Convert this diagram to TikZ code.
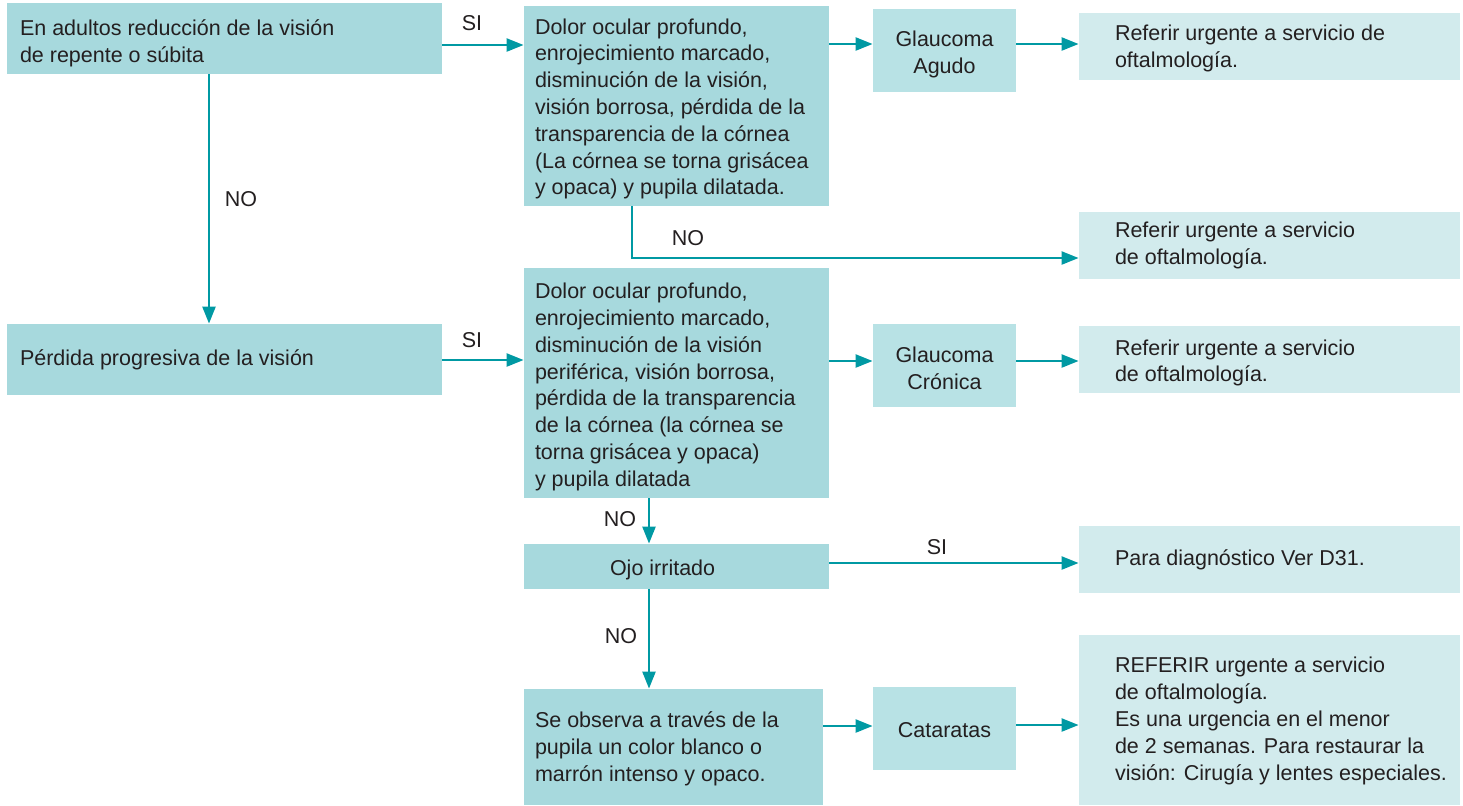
\documentclass[tikz,border=0pt]{standalone}
\usepackage{fontspec}
\setmainfont{Liberation Sans}
\usetikzlibrary{arrows.meta}
\definecolor{dk}{RGB}{167,217,221}
\definecolor{md}{RGB}{184,226,229}
\definecolor{lt}{RGB}{210,235,237}
\definecolor{ar}{RGB}{0,153,163}
\definecolor{tx}{RGB}{35,31,32}
% #1 width, #2 left indent, #3 top pad (text moves down by half of it), #4 text
\newcommand{\tbx}[4]{\parbox[c]{#1}{\raggedright\leftskip=#2\relax\vspace*{#3}#4}}
\newcommand{\cbx}[3]{\parbox[c]{#1}{\centering\vspace*{#2}#3}}
\begin{document}
\begin{tikzpicture}[x=0.5pt,y=-0.5pt,
  every node/.style={font=\fontsize{10.75}{13.4}\selectfont, text=tx},
  box/.style={inner sep=0pt, anchor=center},
  wide/.style={box, minimum width=217.5pt, minimum height=35.5pt, fill=dk},
  mid/.style={box, minimum width=152.5pt, fill=dk},
  glau/.style={box, minimum width=71.5pt, minimum height=41.5pt, fill=md},
  refb/.style={box, minimum width=190.5pt, minimum height=33.5pt, fill=lt},
  arr/.style={draw=ar, line width=1.15pt, -{Triangle[length=8.5pt,width=6.5pt]}},
  lab/.style={inner sep=0pt}]
\useasboundingbox (0,0) rectangle (1463,805);

% boxes
\node[wide] (A) at (224.5,38.5) {\tbx{217.5pt}{6.5pt}{5pt}{En adultos reducción de la visión\\ de repente o súbita}};
\node[mid, minimum height=100pt] (B) at (676.5,106) {\tbx{152.5pt}{5.5pt}{3pt}{Dolor ocular profundo,\\ enrojecimiento marcado,\\ disminución de la visión,\\ visión borrosa, pérdida de la\\ transparencia de la córnea\\ (La córnea se torna grisácea\\ y opaca) y pupila dilatada.}};
\node[glau] (C) at (944.5,50.5) {\cbx{71.5pt}{4pt}{Glaucoma\\ Agudo}};
\node[refb] (D) at (1269.5,46.5) {\tbx{190.5pt}{18pt}{2pt}{Referir urgente a servicio de\\ oftalmología.}};
\node[refb] (E) at (1269.5,245.5) {\tbx{190.5pt}{18pt}{0pt}{Referir urgente a servicio\\ de oftalmología.}};
\node[wide] (F) at (224.5,359.5) {\tbx{217.5pt}{6.5pt}{0pt}{Pérdida progresiva de la visión}};
\node[mid, minimum height=115pt] (G) at (676.5,383) {\tbx{152.5pt}{5.5pt}{4pt}{Dolor ocular profundo,\\ enrojecimiento marcado,\\ disminución de la visión\\ periférica, visión borrosa,\\ pérdida de la transparencia\\ de la córnea (la córnea se\\ torna grisácea y opaca)\\ y pupila dilatada}};
\node[glau] (H) at (944.5,365.5) {\cbx{71.5pt}{3pt}{Glaucoma\\ Crónica}};
\node[refb] (I) at (1269.5,359) {\tbx{190.5pt}{18pt}{4pt}{Referir urgente a servicio\\ de oftalmología.}};
\node[mid, minimum height=22.5pt] (J) at (676.5,566.5) {\tbx{152.5pt}{43pt}{3pt}{Ojo irritado}};
\node[refb] (K) at (1269.5,559.5) {\tbx{190.5pt}{18pt}{0pt}{Para diagnóstico Ver D31.}};
\node[box, fill=dk, minimum width=149.5pt, minimum height=58pt] (L) at (673.5,747) {\tbx{149.5pt}{5.5pt}{2pt}{Se observa a través de la\\ pupila un color blanco o\\ marrón intenso y opaco.}};
\node[glau] (M) at (944.5,728.5) {\cbx{71.5pt}{2pt}{Cataratas}};
\node[refb, minimum height=85pt] (N) at (1269.5,720) {\tbx{190.5pt}{18pt}{1pt}{REFERIR urgente a servicio\\ de oftalmología.\\ Es una urgencia en el menor\\ de 2 semanas. Para restaurar la\\ visión: Cirugía y lentes especiales.}};

% connectors
\draw[arr] (A.east |- 0,45) -- (B.west |- 0,45);
\draw[arr] (A.south -| 209,0) -- (F.north -| 209,0);
\draw[arr] (B.east |- 0,44) -- (C.west |- 0,44);
\draw[arr] (C.east |- 0,44) -- (D.west |- 0,44);
\draw[arr] (B.south -| 632,0) |- (E.west |- 0,258);
\draw[arr] (F.east |- 0,360) -- (G.west |- 0,360);
\draw[arr] (G.east |- 0,361) -- (H.west |- 0,361);
\draw[arr] (H.east |- 0,361) -- (I.west |- 0,361);
\draw[arr] (G.south -| 649,0) -- (J.north -| 649,0);
\draw[arr] (J.east |- 0,563) -- (K.west |- 0,563);
\draw[arr] (J.south -| 649,0) -- (L.north -| 649,0);
\draw[arr] (L.east |- 0,726) -- (M.west |- 0,726);
\draw[arr] (M.east |- 0,725) -- (N.west |- 0,725);

% labels
\node[lab] (l1) at (472,23) {SI};
\node[lab] (l2) at (241,199) {NO};
\node[lab] (l3) at (688,238) {NO};
\node[lab] (l4) at (472,340) {SI};
\node[lab] (l5) at (620,519) {NO};
\node[lab] (l6) at (937,547) {SI};
\node[lab] (l7) at (621,636) {NO};
\end{tikzpicture}
\end{document}
